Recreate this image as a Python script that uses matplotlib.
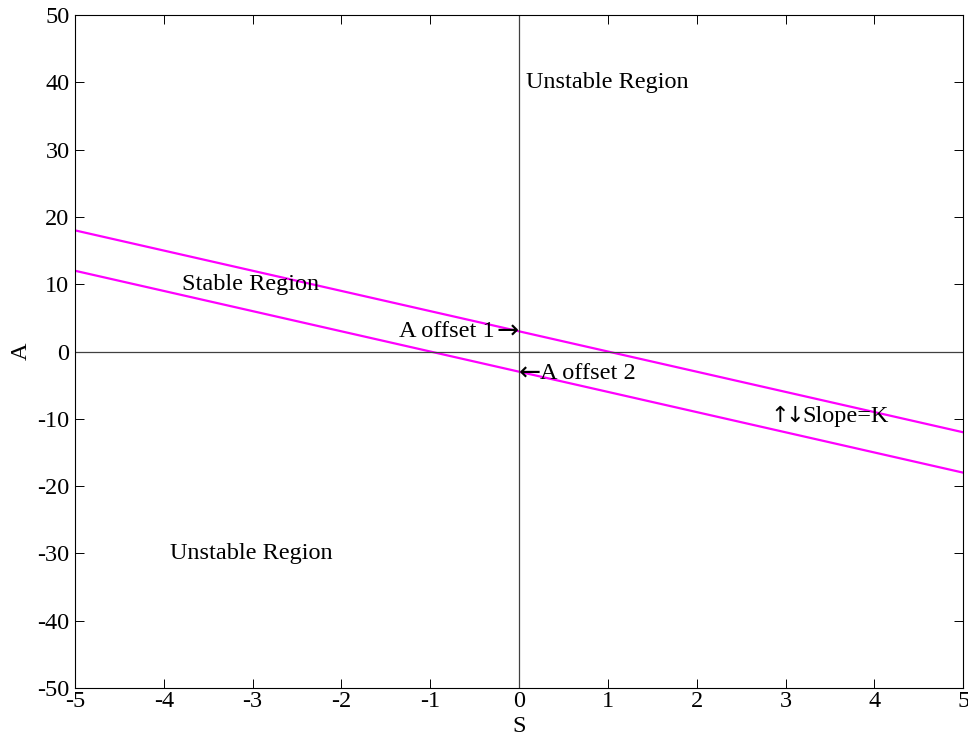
import matplotlib
matplotlib.use('Agg')
import matplotlib.pyplot as plt
import numpy as np

plt.rcParams['font.family'] = ['Liberation Serif', 'DejaVu Serif']
plt.rcParams['axes.unicode_minus'] = False

# datos
s_vals = [-5, 5]
linea_sup = [18, -12]   # A offset 1 = 3, pendiente K = -3
linea_inf = [12, -18]   # A offset 2 = -3
x_ticks = [-5, -4, -3, -2, -1, 0, 1, 2, 3, 4, 5]
y_ticks = [-50, -40, -30, -20, -10, 0, 10, 20, 30, 40, 50]

fig = plt.figure(figsize=(9.68, 7.36), dpi=100)
ax = fig.add_axes([0.0775, 0.0652, 0.9175, 0.9144])

ax.plot(s_vals, linea_sup, color='#ff00ff', linewidth=1.6)
ax.plot(s_vals, linea_inf, color='#ff00ff', linewidth=1.6)
ax.axhline(0, color='#404040', linewidth=0.9)
ax.axvline(0, color='#404040', linewidth=0.9)

fs = 17.5
flecha = dict(fontsize=19, va='center', family='DejaVu Sans')
ax.text(0.08, 40, 'Unstable Region', fontsize=fs, va='center', ha='left')
ax.text(-3.8, 10, 'Stable Region', fontsize=fs, va='center', ha='left')
# A offset 1 ->
ax.text(-0.01, 3, '\u2192', ha='right', **flecha)
ax.text(-0.28, 3, 'A offset 1', fontsize=fs, va='center', ha='right')
# <- A offset 2
ax.text(0.0, -3.3, '\u2190', ha='left', **flecha)
ax.text(0.24, -3.3, 'A offset 2', fontsize=fs, va='center', ha='left')
# up/down Slope=K
ax.text(2.83, -9.6, '\u2191', ha='left', fontsize=16, va='center', family='DejaVu Sans')
ax.text(3.0, -9.6, '\u2193', ha='left', fontsize=16, va='center', family='DejaVu Sans')
ax.text(3.19, -9.6, 'Slope=K', fontsize=fs, va='center', ha='left')
ax.text(-3.93, -30, 'Unstable Region', fontsize=fs, va='center', ha='left')

ax.set_xlim(-5, 5)
ax.set_ylim(-50, 50)
ax.set_xticks(x_ticks)
ax.set_yticks(y_ticks)
ax.tick_params(direction='in', length=6.5, labelsize=fs, top=True, right=True,
               width=0.7, pad=2, colors='black')
ax.tick_params(axis='y', pad=4)
ax.set_xlabel('S', fontsize=fs, labelpad=3)
ax.set_ylabel('A', fontsize=fs, labelpad=4)
for sp in ax.spines.values():
    sp.set_linewidth(0.8)

fig.savefig('out.png', dpi=100)
